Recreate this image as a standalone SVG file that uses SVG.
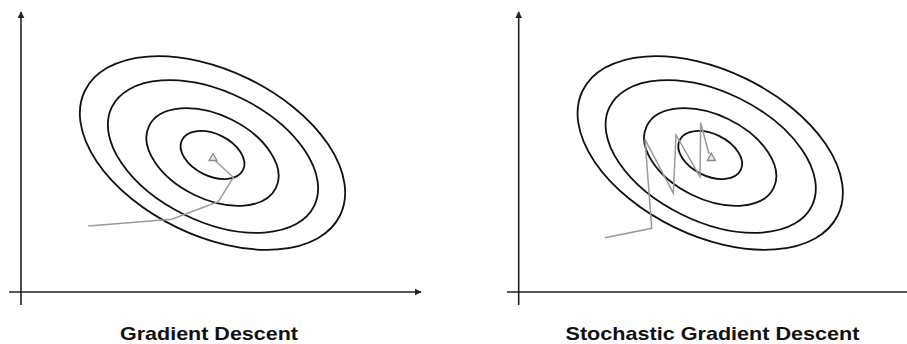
<svg xmlns="http://www.w3.org/2000/svg" width="907" height="344" viewBox="0 0 907 344">
  <style>
    .axis { stroke: #222; stroke-width: 1.6; fill: none; }
    .contour { stroke: #111; stroke-width: 1.8; fill: none; }
    .path { stroke: #9a9a9a; stroke-width: 1.5; fill: none; stroke-linejoin: miter; }
    .goal { stroke: #8a8a8a; stroke-width: 1.3; fill: #e8e8e8; }
    .title { font-family: "Liberation Sans", Arial, sans-serif; font-weight: bold; font-size: 19px; fill: #111; }
  </style>
  <defs>
    <marker id="arrow" viewBox="0 0 10 10" refX="9" refY="5" markerWidth="4.5" markerHeight="4.5" orient="auto" markerUnits="strokeWidth">
      <path d="M0,0 L10,5 L0,10 z" fill="#222"/>
    </marker>
    <g id="contours">
      <ellipse class="contour" cx="0" cy="0" rx="34" ry="21" transform="translate(212.5,155) rotate(26)"/>
      <ellipse class="contour" cx="0" cy="0" rx="70.6" ry="42" transform="translate(212.5,157) rotate(26)"/>
      <ellipse class="contour" cx="0" cy="0" rx="112.6" ry="64.8" transform="translate(213,156.5) rotate(26)"/>
      <ellipse class="contour" cx="0" cy="0" rx="142" ry="82.5" transform="translate(212.5,153) rotate(26)"/>
    </g>
  </defs>

  <g id="gd-panel">
    <g id="gd-axes">
      <line class="axis" x1="21" y1="305" x2="21" y2="12" marker-end="url(#arrow)"/>
      <line class="axis" x1="9" y1="292" x2="421" y2="292" marker-end="url(#arrow)"/>
    </g>
    <g id="gd-contours">
      <use href="#contours"/>
    </g>
    <g id="gd-path">
      <polyline class="path" points="88.3,226 171.7,219.3 218.3,201.7 233.3,177.3 215,160.5"/>
      <polygon class="goal" points="213,153.5 209,160.5 217,160.5"/>
    </g>
    <text class="title" x="209" y="339.5" text-anchor="middle" textLength="178" lengthAdjust="spacingAndGlyphs">Gradient Descent</text>
  </g>

  <g id="sgd-panel">
    <g id="sgd-axes">
      <line class="axis" x1="518.7" y1="305" x2="518.7" y2="12" marker-end="url(#arrow)"/>
      <line class="axis" x1="507" y1="292" x2="910" y2="292"/>
    </g>
    <g id="sgd-contours">
      <use href="#contours" transform="translate(497.7,0)"/>
    </g>
    <g id="sgd-path">
      <polyline class="path" points="605,237.7 651.7,228.3 645,139.3 673.3,193.3 676,135 700,176.7 700.7,122.7 709,154"/>
      <polygon class="goal" points="711.3,153.3 707.3,160.5 715.5,160.5"/>
    </g>
    <text class="title" x="712.5" y="339.5" text-anchor="middle" textLength="294" lengthAdjust="spacingAndGlyphs">Stochastic Gradient Descent</text>
  </g>
</svg>
